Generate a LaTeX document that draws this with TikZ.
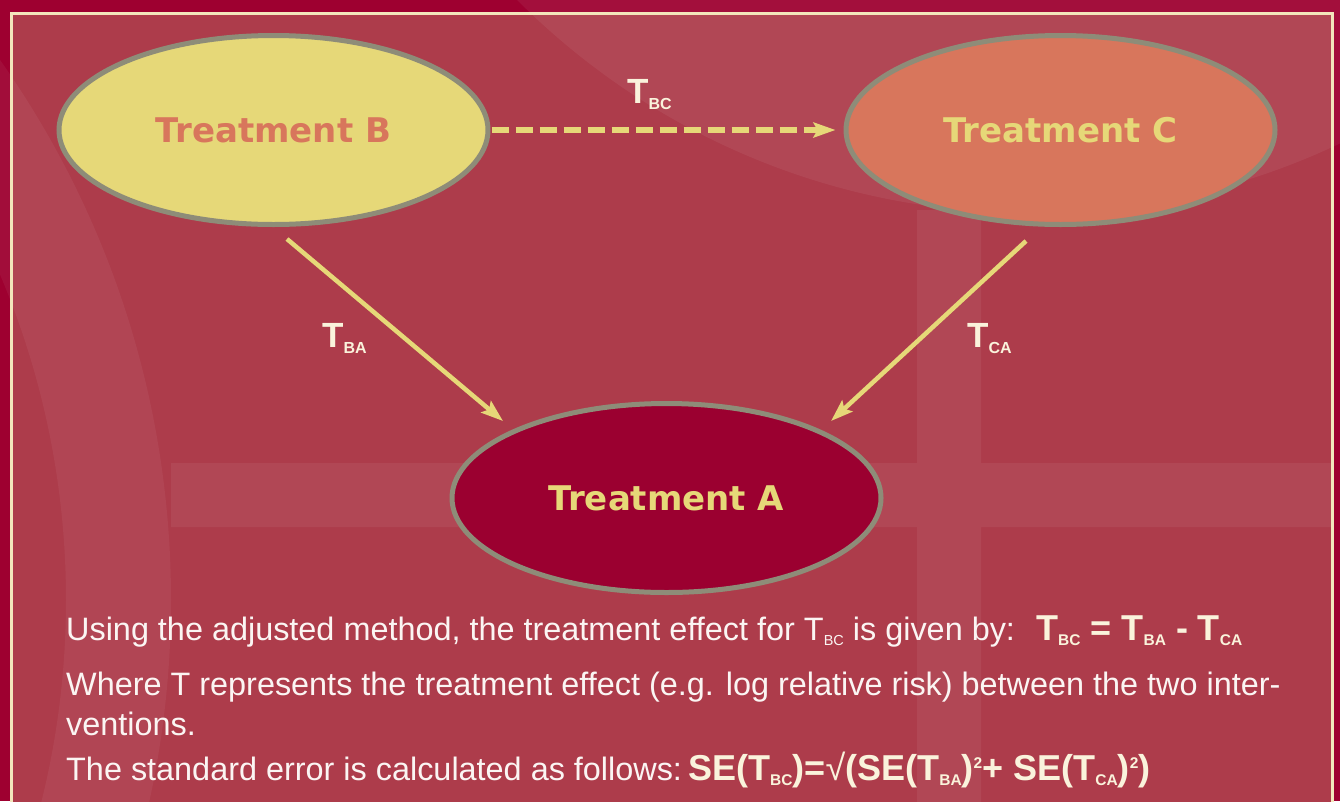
\documentclass[tikz,border=0pt]{standalone}
\usepackage{fontspec}
\setmainfont{Liberation Sans}
\newfontfamily\dejavu{DejaVu Sans}
\usetikzlibrary{arrows.meta,shapes.geometric}
\definecolor{outerbg}{HTML}{9E0030}
\definecolor{innerbg}{HTML}{AD3C4B}
\definecolor{framec}{HTML}{F3E6BC}
\definecolor{ylw}{HTML}{E6D878}
\definecolor{sal}{HTML}{D8765C}
\definecolor{crim}{HTML}{9B0030}
\definecolor{ringc}{HTML}{8E8C78}
\definecolor{cream}{HTML}{FAF3DC}
\definecolor{txt}{HTML}{FBF5F3}
\newcommand\lsub[1]{\raisebox{-6pt}{\fontsize{16}{16}\selectfont #1}}
\newcommand\fsub[1]{\raisebox{-5pt}{\fontsize{15.5}{15.5}\selectfont #1}}
\newcommand\rsub[1]{\raisebox{-5pt}{\fontsize{14.5}{14.5}\selectfont #1}}
\newcommand\fsup[1]{\raisebox{12pt}{\fontsize{15.5}{15.5}\selectfont #1}}
\tikzset{
  trt/.style={ellipse, draw=ringc, line width=5pt, minimum width=429pt,
    minimum height=189pt, inner sep=0pt, font=\dejavu\bfseries\fontsize{34}{34}\selectfont},
  lbl/.style={anchor=base west, inner sep=0pt, text=cream, font=\bfseries\fontsize{35}{35}\selectfont},
  body/.style={anchor=base west, inner sep=0pt, text=txt, font=\fontsize{32.4}{32.4}\selectfont},
  formula/.style={anchor=base west, inner sep=0pt, text=cream, font=\bfseries\fontsize{36}{36}\selectfont},
  conn/.style={draw=ylw, line width=4.5pt, -{Stealth[length=22pt,width=15pt,inset=4pt]}},
}
\begin{document}
\begin{tikzpicture}[x=1pt,y=-1pt]
\useasboundingbox (0,0) rectangle (1340,801);
\clip (0,0) rectangle (1340,801);
% background
\fill[outerbg] (0,0) rectangle (1340,801);
\fill[innerbg] (11,13) rectangle (1332,820);
\begin{scope}[transparency group, opacity=0.06]
  \fill[white] (1030,-511) circle (724);
  \fill[white] (171,463) rectangle (1332,527);
  \fill[white] (917,210) rectangle (981,820);
\end{scope}
\fill[white, opacity=0.05, even odd rule] (-767,600) circle (938) (-767,600) circle (833);
\draw[framec, line width=3pt] (11,13) rectangle (1332,830);

% nodes
\node[trt, fill=ylw, text=sal] (B) at (273.5,130) {Treatment B};
\node[trt, fill=sal, text=ylw] (C) at (1060.5,130) {Treatment C};
\node[trt, fill=crim, text=ylw] (A) at (666.5,498) {Treatment A};

% connectors
\draw[conn, dash pattern=on 17pt off 7pt, line width=5.5pt, shorten <=1pt, shorten >=8pt] (B.east) -- (C.west);
\coordinate (ba0) at (287,239);
\coordinate (ba1) at (503,421);
\coordinate (ca0) at (1026,241);
\coordinate (ca1) at (831,421);
\draw[conn] (ba0) -- (ba1);
\draw[conn] (ca0) -- (ca1);

% labels
\node[lbl] (tbc) at (627,103) {T\lsub{BC}};
\node[lbl] (tba) at (322,347) {T\lsub{BA}};
\node[lbl] (tca) at (967,347) {T\lsub{CA}};

% text
\node[body] (l1) at (66,640) {Using the adjusted method, the treatment effect for T\rsub{BC} is given by:};
\node[formula] (f1) at (1036,640) {T\fsub{BC} = T\fsub{BA} - T\fsub{CA}};
\node[body] (l2) at (66,695) {Where T represents the treatment effect (e.g. log relative risk) between the two inter-};
\node[body] (l3) at (66,735) {ventions.};
\node[body] (l4) at (66,780) {The standard error is calculated as follows:};
\node[formula] (f2) at (688,780) {SE(T\fsub{BC})=\textmd{√}(SE(T\fsub{BA})\fsup{2}+ SE(T\fsub{CA})\fsup{2})};
\end{tikzpicture}
\end{document}
